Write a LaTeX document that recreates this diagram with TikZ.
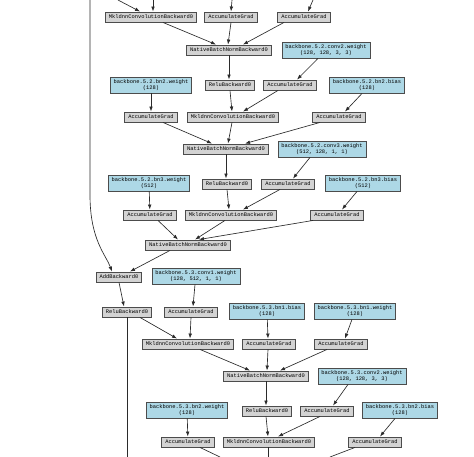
\documentclass[tikz,border=0pt]{standalone}
\usepackage{fontspec}
\setmonofont{Liberation Mono}
\usepackage{tikz}
\usetikzlibrary{arrows.meta,positioning}
\definecolor{GradGrey}{HTML}{D3D3D3}
\definecolor{ParamBlue}{HTML}{ADD8E6}
\definecolor{Edge}{HTML}{2B2B2B}
\tikzset{
  arr/.style={-{Latex[length=5pt,width=3.6pt]},line width=0.65pt,draw=Edge},
  opbox/.style={draw=black!70,line width=0.9pt,fill=GradGrey,font=\ttfamily\fontsize{5.4}{6.2}\selectfont,inner xsep=3.5pt,inner ysep=0pt,minimum height=10pt,text height=4pt,text depth=1pt},
  parambox/.style={draw=black!70,line width=0.9pt,fill=ParamBlue,font=\ttfamily\fontsize{5.4}{6.2}\selectfont,align=center,inner xsep=3.5pt,inner ysep=2pt,minimum height=16pt}
}
\begin{document}
\begin{tikzpicture}[x=1pt,y=-1pt]
  \useasboundingbox[fill=white] (0,0) rectangle (474,457);
  % free ends at the cut edges
  \coordinate (in1) at (118,0);
  \coordinate (in2) at (153,0);
  \coordinate (in3) at (232,0);
  \coordinate (in4) at (313,0);
  \coordinate (skip) at (90,0);
  \coordinate (out1) at (220,457);
  \coordinate (out2) at (268,457);
  \coordinate (out3) at (330,457);
  \coordinate (out4) at (127,457);
  % tail of backbone.5.2
  \node[opbox] (mk52a) at (151,17) {MkldnnConvolutionBackward0};
  \node[opbox] (acc52a) at (231,17) {AccumulateGrad};
  \node[opbox] (acc52b) at (304,17) {AccumulateGrad};
  \node[opbox] (bn52a) at (229,50) {NativeBatchNormBackward0};
  \node[parambox] (w52c2) at (326,50) {backbone.5.2.conv2.weight\\(128, 128, 3, 3)};
  \node[parambox] (w52b2) at (151,85) {backbone.5.2.bn2.weight\\(128)};
  \node[opbox] (relu52a) at (230,85) {ReluBackward0};
  \node[opbox] (acc52c) at (290,85) {AccumulateGrad};
  \node[parambox] (b52b2) at (367,85) {backbone.5.2.bn2.bias\\(128)};
  \node[opbox] (acc52d) at (151,117) {AccumulateGrad};
  \node[opbox] (mk52b) at (233,117) {MkldnnConvolutionBackward0};
  \node[opbox] (acc52e) at (339,117) {AccumulateGrad};
  \node[opbox] (bn52b) at (226,149) {NativeBatchNormBackward0};
  \node[parambox] (w52c3) at (322,149) {backbone.5.2.conv3.weight\\(512, 128, 1, 1)};
  \node[parambox] (w52b3) at (149,183) {backbone.5.2.bn3.weight\\(512)};
  \node[opbox] (relu52b) at (227,184) {ReluBackward0};
  \node[opbox] (acc52f) at (288,184) {AccumulateGrad};
  \node[parambox] (b52b3) at (363,183) {backbone.5.2.bn3.bias\\(512)};
  \node[opbox] (acc52g) at (150,215) {AccumulateGrad};
  \node[opbox] (mk52c) at (231,215) {MkldnnConvolutionBackward0};
  \node[opbox] (acc52h) at (337,215) {AccumulateGrad};
  \node[opbox] (bn52c) at (188,245) {NativeBatchNormBackward0};
  \node[opbox] (add52) at (119,277) {AddBackward0};
  % backbone.5.3
  \node[parambox] (w53c1) at (196,276) {backbone.5.3.conv1.weight\\(128, 512, 1, 1)};
  \node[opbox] (relu53a) at (127,312) {ReluBackward0};
  \node[opbox] (acc53a) at (191,312) {AccumulateGrad};
  \node[parambox] (b53b1) at (267,311) {backbone.5.3.bn1.bias\\(128)};
  \node[parambox] (w53b1) at (355,311) {backbone.5.3.bn1.weight\\(128)};
  \node[opbox] (mk53a) at (188,344) {MkldnnConvolutionBackward0};
  \node[opbox] (acc53b) at (269,344) {AccumulateGrad};
  \node[opbox] (acc53c) at (341,344) {AccumulateGrad};
  \node[opbox] (bn53a) at (266,376) {NativeBatchNormBackward0};
  \node[parambox] (w53c2) at (362,376) {backbone.5.3.conv2.weight\\(128, 128, 3, 3)};
  \node[parambox] (w53b2) at (187,410) {backbone.5.3.bn2.weight\\(128)};
  \node[opbox] (relu53b) at (267,411) {ReluBackward0};
  \node[opbox] (acc53d) at (327,411) {AccumulateGrad};
  \node[parambox] (b53b2) at (400,410) {backbone.5.3.bn2.bias\\(128)};
  \node[opbox] (acc53e) at (188,442) {AccumulateGrad};
  \node[opbox] (mk53b) at (269,442) {MkldnnConvolutionBackward0};
  \node[opbox] (acc53f) at (375,442) {AccumulateGrad};
  % edges, 5.2
  \draw[arr] (in1) -- ([xshift=-11pt]mk52a.north);
  \draw[arr] (in2) -- ([xshift=2pt]mk52a.north);
  \draw[arr] (in3) -- (acc52a.north);
  \draw[arr] (in4) -- ([xshift=4pt]acc52b.north);
  \draw[arr] ([xshift=12pt]mk52a.south) -- ([xshift=-13pt]bn52a.north);
  \draw[arr] (acc52a.south) -- ([xshift=-1pt]bn52a.north);
  \draw[arr] ([xshift=-20pt]acc52b.south) -- ([xshift=14pt]bn52a.north);
  \draw[arr] (bn52a.south) -- ([xshift=-1pt]relu52a.north);
  \draw[arr] ([xshift=-8pt]w52c2.south) -- ([xshift=7pt]acc52c.north);
  \draw[arr] (w52b2) -- (acc52d);
  \draw[arr] (relu52a.south) -- ([xshift=-1pt]mk52b.north);
  \draw[arr] ([xshift=-12pt]acc52c.south) -- ([xshift=10pt]mk52b.north);
  \draw[arr] ([xshift=-5pt]b52b2.south) -- ([xshift=6pt]acc52e.north);
  \draw[arr] ([xshift=12pt]acc52d.south) -- ([xshift=-14pt]bn52b.north);
  \draw[arr] ([xshift=-1pt]mk52b.south) -- ([xshift=2pt]bn52b.north);
  \draw[arr] ([xshift=-19pt]acc52e.south) -- ([xshift=19pt]bn52b.north);
  \draw[arr] (bn52b.south) -- ([xshift=-1pt]relu52b.north);
  \draw[arr] ([xshift=-12pt]w52c3.south) -- ([xshift=5pt]acc52f.north);
  \draw[arr] (w52b3) -- (acc52g);
  \draw[arr] (relu52b.south) -- ([xshift=-2pt]mk52c.north);
  \draw[arr] ([xshift=-8pt]acc52f.south) -- ([xshift=12pt]mk52c.north);
  \draw[arr] ([xshift=-6pt]b52b3.south) -- ([xshift=5pt]acc52h.north);
  \draw[arr] ([xshift=8pt]acc52g.south) -- ([xshift=-10pt]bn52c.north);
  \draw[arr] ([xshift=-6pt]mk52c.south) -- ([xshift=7pt]bn52c.north);
  \draw[arr] ([xshift=-24pt]acc52h.south) -- ([xshift=11pt]bn52c.north);
  \draw[arr] ([xshift=-18pt]bn52c.south) -- ([xshift=11pt]add52.north);
  \draw[arr] (skip) -- (90,195) .. controls (90,240) and (106,255) .. ([xshift=-7pt]add52.north);
  % edges, 5.3
  \draw[arr] (add52.south) -- ([xshift=-3pt]relu53a.north);
  \draw[arr] ([xshift=-1pt]w53c1.south) -- ([xshift=2pt]acc53a.north);
  \draw[arr] ([xshift=13pt]relu53a.south) -- ([xshift=-11pt]mk53a.north);
  \draw[arr] (acc53a.south) -- ([xshift=2pt]mk53a.north);
  \draw[line width=0.65pt,draw=Edge] (relu53a.south) -- (out4);
  \draw[arr] (b53b1) -- ([xshift=-1pt]acc53b.north);
  \draw[arr] ([xshift=-3pt]w53b1.south) -- ([xshift=4pt]acc53c.north);
  \draw[arr] ([xshift=12pt]mk53a.south) -- ([xshift=-16pt]bn53a.north);
  \draw[arr] ([xshift=-1pt]acc53b.south) -- ([xshift=1pt]bn53a.north);
  \draw[arr] ([xshift=-14pt]acc53c.south) -- ([xshift=14pt]bn53a.north);
  \draw[arr] (bn53a.south) -- ([xshift=-1pt]relu53b.north);
  \draw[arr] ([xshift=-14pt]w53c2.south) -- ([xshift=6pt]acc53d.north);
  \draw[arr] (w53b2) -- (acc53e);
  \draw[arr] ([xshift=-1pt]relu53b.south) -- ([xshift=-1pt]mk53b.north);
  \draw[arr] ([xshift=-7pt]acc53d.south) -- ([xshift=9pt]mk53b.north);
  \draw[arr] ([xshift=-5pt]b53b2.south) -- ([xshift=5pt]acc53f.north);
  \draw[line width=0.65pt,draw=Edge] ([xshift=12pt]acc53e.south) -- (out1);
  \draw[line width=0.65pt,draw=Edge] ([xshift=-1pt]mk53b.south) -- (out2);
  \draw[line width=0.65pt,draw=Edge] ([xshift=-20pt]acc53f.south) -- (out3);
\end{tikzpicture}
\end{document}
